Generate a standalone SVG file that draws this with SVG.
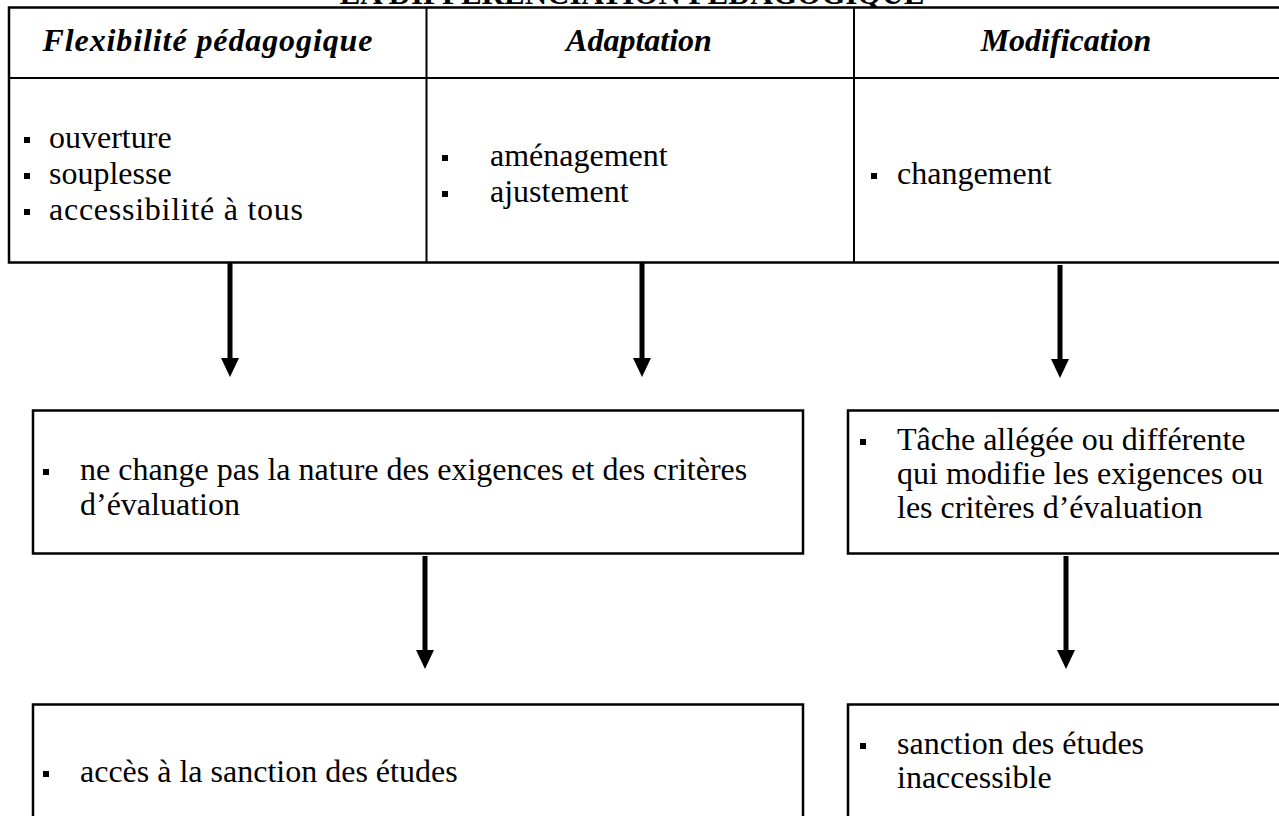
<svg xmlns="http://www.w3.org/2000/svg" width="1279" height="816" viewBox="0 0 1279 816">
<style>
  .t { font-family: "Liberation Serif", "Times New Roman", serif; font-size: 32px; fill: #000; }
  .h { font-family: "Liberation Serif", "Times New Roman", serif; font-size: 32px; font-weight: bold; font-style: italic; fill: #000; text-anchor: middle; }
  .title { font-family: "Liberation Serif", "Times New Roman", serif; font-size: 31px; font-weight: bold; fill: #000; text-anchor: middle; }
  .box { fill: #fff; stroke: #000; stroke-width: 2.5; }
  .grid { stroke: #000; stroke-width: 2; fill: none; }
  .b { fill: #000; }
  .conn { stroke: #000; stroke-width: 5; fill: none; }
</style>
<defs>
  <marker id="ah" markerUnits="userSpaceOnUse" markerWidth="20" markerHeight="20" viewBox="0 0 20 20" refX="1" refY="10" orient="auto">
    <path d="M0,1 L19,10 L0,19 Z" fill="#000"/>
  </marker>
</defs>
<rect width="1279" height="816" fill="#fff"/>
<text class="title" x="632" y="4">LA DIFFÉRENCIATION PÉDAGOGIQUE</text>

<g id="table">
  <rect class="box" x="9" y="7.5" width="1275" height="255"/>
  <line class="grid" x1="9" y1="78" x2="1284" y2="78"/>
  <line class="grid" x1="426.5" y1="7.5" x2="426.5" y2="262.5"/>
  <line class="grid" x1="854" y1="7.5" x2="854" y2="262.5"/>
</g>

<g id="flexibilite">
  <text class="h" x="207.5" y="51" textLength="330" lengthAdjust="spacing">Flexibilité pédagogique</text>
  <rect class="b" x="24" y="137" width="6" height="6"/>
  <text class="t" x="49" y="148">ouverture</text>
  <rect class="b" x="24" y="173" width="6" height="6"/>
  <text class="t" x="49" y="184">souplesse</text>
  <rect class="b" x="24" y="209" width="6" height="6"/>
  <text class="t" x="49" y="220" textLength="254" lengthAdjust="spacing">accessibilité à tous</text>
</g>

<g id="adaptation">
  <text class="h" x="639" y="51">Adaptation</text>
  <rect class="b" x="442" y="155" width="6" height="6"/>
  <text class="t" x="490" y="166">aménagement</text>
  <rect class="b" x="442" y="191" width="6" height="6"/>
  <text class="t" x="490" y="202">ajustement</text>
</g>

<g id="modification">
  <text class="h" x="1066" y="51">Modification</text>
  <rect class="b" x="871" y="173" width="6" height="6"/>
  <text class="t" x="897" y="184">changement</text>
</g>

<g id="exigences-inchangees">
  <rect class="box" x="33" y="410.5" width="770" height="143"/>
  <rect class="b" x="43" y="469" width="6" height="6"/>
  <text class="t" x="80" y="480">ne change pas la nature des exigences et des critères</text>
  <text class="t" x="80" y="515">d’évaluation</text>
</g>

<g id="tache-allegee">
  <rect class="box" x="848" y="410.5" width="440" height="143"/>
  <rect class="b" x="860" y="439" width="6" height="6"/>
  <text class="t" x="897" y="450">Tâche allégée ou différente</text>
  <text class="t" x="897" y="484">qui modifie les exigences ou</text>
  <text class="t" x="897" y="518">les critères d’évaluation</text>
</g>

<g id="acces-sanction">
  <rect class="box" x="33" y="704.5" width="770" height="130"/>
  <rect class="b" x="43" y="771" width="6" height="6"/>
  <text class="t" x="80" y="782">accès à la sanction des études</text>
</g>

<g id="sanction-inaccessible">
  <rect class="box" x="848" y="704.5" width="440" height="130"/>
  <rect class="b" x="860" y="743" width="6" height="6"/>
  <text class="t" x="897" y="754">sanction des études</text>
  <text class="t" x="897" y="788">inaccessible</text>
</g>

<g id="connectors">
  <line class="conn" x1="230" y1="263" x2="230" y2="359" marker-end="url(#ah)"/>
  <line class="conn" x1="642" y1="263" x2="642" y2="359" marker-end="url(#ah)"/>
  <line class="conn" x1="1060" y1="265" x2="1060" y2="360" marker-end="url(#ah)"/>
  <line class="conn" x1="425" y1="556" x2="425" y2="651" marker-end="url(#ah)"/>
  <line class="conn" x1="1066" y1="556" x2="1066" y2="651" marker-end="url(#ah)"/>
</g>
</svg>
